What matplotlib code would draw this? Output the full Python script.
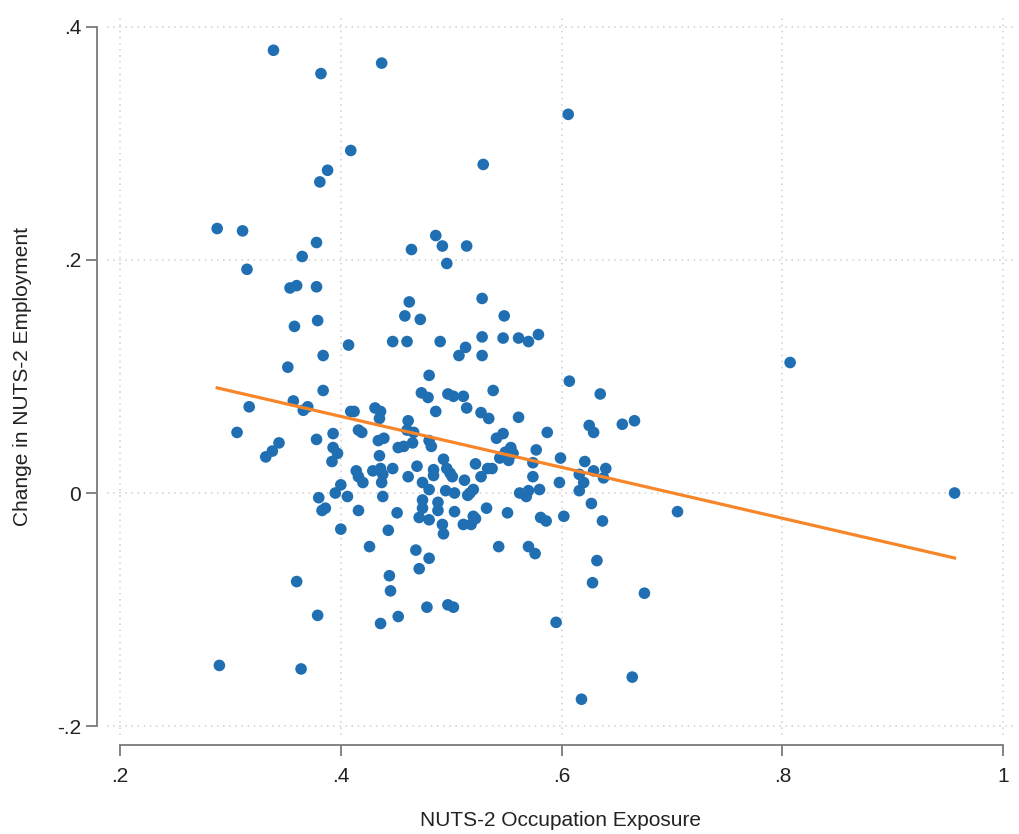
import numpy as np
import matplotlib
matplotlib.use("Agg")
import matplotlib.pyplot as plt

# NUTS-2 regions: occupation exposure vs change in employment
exposure = [
    0.339, 0.382, 0.437, 0.606, 0.409, 0.388, 0.381, 0.529, 0.288, 0.311,
    0.378, 0.365, 0.315, 0.354, 0.360, 0.378, 0.486, 0.464, 0.492, 0.514,
    0.496, 0.528, 0.462, 0.548, 0.458, 0.472, 0.379, 0.358, 0.407, 0.384,
    0.352, 0.384, 0.357, 0.317, 0.366, 0.370, 0.306, 0.344, 0.338, 0.332,
    0.378, 0.393, 0.393, 0.397, 0.392, 0.409, 0.412, 0.431, 0.436, 0.435,
    0.416, 0.419, 0.434, 0.439, 0.461, 0.460, 0.466, 0.480, 0.473, 0.479,
    0.486, 0.447, 0.460, 0.490, 0.452, 0.457, 0.465, 0.480, 0.482, 0.435,
    0.429, 0.436, 0.438, 0.437, 0.414, 0.416, 0.420, 0.447, 0.461, 0.469,
    0.474, 0.480, 0.484, 0.484, 0.400, 0.395, 0.406, 0.438, 0.380, 0.383,
    0.386, 0.416, 0.451, 0.474, 0.474, 0.471, 0.480, 0.488, 0.488, 0.400,
    0.443, 0.426, 0.468, 0.480, 0.471, 0.444, 0.445, 0.360, 0.379, 0.478,
    0.452, 0.436, 0.290, 0.364, 0.497, 0.502, 0.595, 0.675, 0.664, 0.618,
    0.632, 0.628, 0.627, 0.637, 0.602, 0.581, 0.586, 0.570, 0.576, 0.543,
    0.551, 0.532, 0.520, 0.522, 0.518, 0.511, 0.503, 0.492, 0.493, 0.562,
    0.568, 0.570, 0.580, 0.598, 0.616, 0.620, 0.517, 0.520, 0.495, 0.503,
    0.515, 0.528, 0.547, 0.561, 0.570, 0.579, 0.507, 0.513, 0.528, 0.607,
    0.635, 0.538, 0.497, 0.502, 0.511, 0.514, 0.527, 0.534, 0.561, 0.587,
    0.625, 0.629, 0.655, 0.666, 0.541, 0.547, 0.577, 0.549, 0.554, 0.556,
    0.544, 0.552, 0.574, 0.599, 0.621, 0.522, 0.493, 0.533, 0.537, 0.527,
    0.512, 0.574, 0.616, 0.629, 0.640, 0.638, 0.496, 0.499, 0.501, 0.807,
    0.956, 0.705,
]
emp_change = [
    0.380, 0.360, 0.369, 0.325, 0.294, 0.277, 0.267, 0.282, 0.227, 0.225,
    0.215, 0.203, 0.192, 0.176, 0.178, 0.177, 0.221, 0.209, 0.212, 0.212,
    0.197, 0.167, 0.164, 0.152, 0.152, 0.149, 0.148, 0.143, 0.127, 0.118,
    0.108, 0.088, 0.079, 0.074, 0.071, 0.074, 0.052, 0.043, 0.036, 0.031,
    0.046, 0.051, 0.039, 0.034, 0.027, 0.070, 0.070, 0.073, 0.070, 0.064,
    0.054, 0.052, 0.045, 0.047, 0.062, 0.054, 0.052, 0.101, 0.086, 0.082,
    0.070, 0.130, 0.130, 0.130, 0.039, 0.040, 0.043, 0.045, 0.040, 0.032,
    0.019, 0.021, 0.016, 0.009, 0.019, 0.014, 0.009, 0.021, 0.014, 0.023,
    0.009, 0.003, 0.020, 0.015, 0.007, 0.000, -0.003, -0.003, -0.004, -0.015,
    -0.013, -0.015, -0.017, -0.006, -0.013, -0.021, -0.023, -0.008, -0.015, -0.031,
    -0.032, -0.046, -0.049, -0.056, -0.065, -0.071, -0.084, -0.076, -0.105, -0.098,
    -0.106, -0.112, -0.148, -0.151, -0.096, -0.098, -0.111, -0.086, -0.158, -0.177,
    -0.058, -0.077, -0.009, -0.024, -0.020, -0.021, -0.024, -0.046, -0.052, -0.046,
    -0.017, -0.013, -0.020, -0.022, -0.027, -0.027, -0.016, -0.027, -0.035, 0.000,
    -0.003, 0.002, 0.003, 0.009, 0.002, 0.009, 0.000, 0.003, 0.002, 0.000,
    -0.002, 0.134, 0.133, 0.133, 0.130, 0.136, 0.118, 0.125, 0.118, 0.096,
    0.085, 0.088, 0.085, 0.083, 0.083, 0.073, 0.069, 0.064, 0.065, 0.052,
    0.058, 0.052, 0.059, 0.062, 0.047, 0.051, 0.037, 0.035, 0.039, 0.034,
    0.030, 0.028, 0.026, 0.030, 0.027, 0.025, 0.029, 0.021, 0.021, 0.014,
    0.011, 0.014, 0.016, 0.019, 0.021, 0.013, 0.021, 0.017, 0.014, 0.112,
    0.000, -0.016,
]

# linear fit as shown in the chart
fit_intercept = 0.1532
fit_slope = -0.2186

x_ticks = [0.2, 0.4, 0.6, 0.8, 1.0]
x_ticklabels = [".2", ".4", ".6", ".8", "1"]
y_ticks = [-0.2, 0.0, 0.2, 0.4]
y_ticklabels = ["-.2", "0", ".2", ".4"]

plt.rcParams['font.family'] = ['Liberation Sans', 'DejaVu Sans']

fig = plt.figure(figsize=(10.19, 8.34), dpi=100)
ax = fig.add_axes([107 / 1019, 1 - 735 / 834, 908 / 1019, 717 / 834])

x = np.array(exposure)
y = np.array(emp_change)
ax.scatter(x, y, s=70, color="#1f6fb2", edgecolors="none", zorder=3)

xs = np.array([x.min(), x.max()])
ax.plot(xs, fit_intercept + fit_slope * xs, color="#f7862a", lw=2.3, zorder=4)

ax.set_xlim(0.1882, 1.0107)
ax.set_ylim(-0.2077, 0.4077)
ax.set_xticks(x_ticks)
ax.set_xticklabels(x_ticklabels)
ax.set_yticks(y_ticks)
ax.set_yticklabels(y_ticklabels)

ax.grid(True, color="#cfcfcf", linestyle=(0, (1, 3)), linewidth=1.1)
ax.set_axisbelow(True)

for side in ("top", "right"):
    ax.spines[side].set_visible(False)
ax.spines["left"].set_position(("outward", 7.2))
ax.spines["bottom"].set_position(("outward", 7.2))
ax.spines["left"].set_bounds(-0.2, 0.4)
ax.spines["bottom"].set_bounds(0.2, 1.0)
for side in ("left", "bottom"):
    ax.spines[side].set_color("#7a7a7a")
    ax.spines[side].set_linewidth(1.3)

ax.tick_params(axis="both", colors="#7a7a7a", width=1.3, length=8, labelsize=15,
               labelcolor="#222222")
ax.tick_params(axis="x", pad=8)

ax.set_xlabel("NUTS-2 Occupation Exposure", fontsize=15, color="#222222", labelpad=18)
ax.set_ylabel("Change in NUTS-2 Employment", fontsize=15, color="#222222", labelpad=18)

fig.savefig("out.png", dpi=100)
